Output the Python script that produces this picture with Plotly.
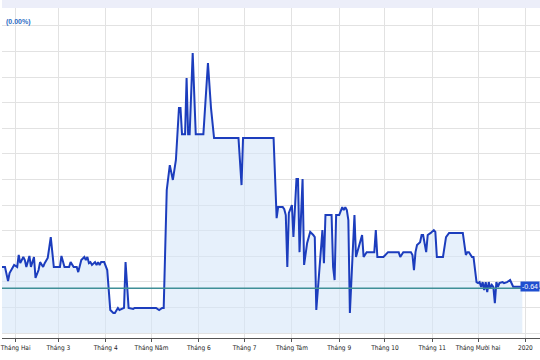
import plotly.graph_objects as go

# ---- data ----
dates_a = ["2019-01-23","2019-01-25","2019-01-27","2019-01-28","2019-01-31","2019-02-02","2019-02-03","2019-02-04",
           "2019-02-06","2019-02-07","2019-02-08","2019-02-10","2019-02-11","2019-02-13","2019-02-14","2019-02-16",
           "2019-02-17","2019-02-19","2019-02-20","2019-02-22","2019-02-24","2019-02-26","2019-03-02","2019-03-03",
           "2019-03-05","2019-03-08","2019-03-09","2019-03-11","2019-03-13","2019-03-14","2019-03-16","2019-03-18",
           "2019-03-19","2019-03-20","2019-03-21","2019-03-22","2019-03-23","2019-03-25","2019-03-26","2019-03-27",
           "2019-03-28","2019-03-29","2019-03-31","2019-04-02","2019-04-04","2019-04-06","2019-04-07","2019-04-09",
           "2019-04-10","2019-04-13","2019-04-14","2019-04-16","2019-04-19","2019-04-20","2019-04-24","2019-05-04",
           "2019-05-06","2019-05-08","2019-05-09"]
values_a = [2.58,2.58,2.03,2.34,2.66,2.58,3.05,2.73,
            2.97,2.85,2.58,3.01,2.58,2.97,2.15,2.46,
            2.77,2.58,2.73,2.93,3.75,2.58,2.58,3.01,
            2.58,2.58,2.77,2.58,2.58,2.38,2.85,2.97,
            2.85,2.97,2.73,2.77,2.66,2.77,2.66,2.77,
            2.66,2.77,2.77,2.46,0.90,0.78,0.78,0.98,
            0.90,0.98,2.77,0.98,0.94,0.98,0.98,0.98,
            0.90,0.98,0.98]

dates_b = ["2019-05-11","2019-05-13","2019-05-15","2019-05-17","2019-05-19","2019-05-20","2019-05-21","2019-05-23",
           "2019-05-24","2019-05-25","2019-05-26","2019-05-28","2019-05-30","2019-06-04","2019-06-07","2019-06-09",
           "2019-06-11","2019-06-27","2019-06-29","2019-06-30","2019-07-20"]
values_b = [5.59,6.56,5.98,6.76,8.79,8.79,7.77,7.77,
            9.96,7.77,7.77,10.94,7.77,7.77,10.55,8.79,
            7.62,7.62,5.78,7.62,7.62]

dates_c = ["2019-07-22","2019-07-23","2019-07-26","2019-07-27","2019-07-28","2019-07-29","2019-07-30","2019-08-01",
           "2019-08-02","2019-08-04","2019-08-05","2019-08-06","2019-08-08","2019-08-09","2019-08-11","2019-08-13",
           "2019-08-15","2019-08-16","2019-08-17","2019-08-19","2019-08-21","2019-08-22","2019-08-23","2019-08-27",
           "2019-08-28","2019-08-29","2019-08-30","2019-09-01","2019-09-03","2019-09-04","2019-09-05","2019-09-06",
           "2019-09-07","2019-09-08","2019-09-11","2019-09-12","2019-09-14","2019-09-16","2019-09-17","2019-09-19",
           "2019-09-24","2019-09-25","2019-09-26"]
values_c = [4.49,4.92,4.92,4.84,4.61,2.58,4.69,5.00,
            3.75,6.02,6.02,3.16,6.02,2.66,3.52,3.95,
            3.83,3.75,0.90,2.58,4.02,2.73,4.61,4.61,
            2.58,2.07,4.61,4.61,4.92,4.80,4.92,4.80,
            4.41,0.78,4.61,2.97,3.36,3.83,2.97,3.16,
            3.16,4.02,2.97]

dates_d = ["2019-09-30","2019-10-03","2019-10-10","2019-10-11","2019-10-13","2019-10-18","2019-10-19","2019-10-20",
           "2019-10-21","2019-10-22","2019-10-24","2019-10-25","2019-10-26","2019-10-28","2019-10-29","2019-10-31",
           "2019-11-02","2019-11-03","2019-11-04","2019-11-08","2019-11-10","2019-11-12","2019-11-21","2019-11-23",
           "2019-11-24","2019-11-25","2019-11-27","2019-11-28","2019-11-29","2019-11-30"]
values_d = [2.97,3.16,3.16,2.97,3.16,3.16,3.05,2.46,
            3.16,3.44,3.55,3.83,3.83,3.16,3.83,3.91,
            4.02,3.95,2.97,2.97,3.75,3.91,3.91,3.05,
            3.16,3.16,2.97,2.97,2.46,1.99]

dates_e = ["2019-12-01","2019-12-02","2019-12-03","2019-12-04","2019-12-05","2019-12-06","2019-12-07","2019-12-08",
           "2019-12-09","2019-12-10","2019-12-11","2019-12-12","2019-12-13","2019-12-14","2019-12-15","2019-12-17",
           "2019-12-18","2019-12-20","2019-12-22","2019-12-24","2019-12-30"]
values_e = [1.95,1.99,1.80,1.99,1.68,1.99,1.60,1.99,
            1.76,1.88,1.80,1.17,1.99,1.80,1.95,1.99,
            1.95,1.99,2.07,1.81,1.81]

reference_level = 1.75
last_label = "-0.64"
top_label = "(0.00%)"

tick_dates = ["2019-02-01","2019-03-01","2019-04-01","2019-05-01","2019-06-01","2019-07-01",
              "2019-08-01","2019-09-01","2019-10-01","2019-11-01","2019-12-01","2020-01-01"]
tick_labels = ["Tháng Hai","Tháng 3","Tháng 4","Tháng Năm","Tháng 6","Tháng 7",
               "Tháng Tám","Tháng 9","Tháng 10","Tháng 11","Tháng Mười hai","2020"]

dates = dates_a + dates_b + dates_c + dates_d + dates_e
values = values_a + values_b + values_c + values_d + values_e

fig = go.Figure()
fig.add_trace(go.Scatter(
    x=dates, y=values, mode="lines",
    line=dict(color="#1c3dbd", width=2),
    fill="tozeroy", fillcolor="rgba(214,230,248,0.6)",
    hoverinfo="skip", showlegend=False,
))

fig.add_shape(type="line", xref="paper", x0=0, x1=1, yref="y",
              y0=reference_level, y1=reference_level,
              line=dict(color="#3f8f97", width=1.5), layer="above")

# top header band
fig.add_shape(type="rect", xref="paper", yref="paper", x0=0, x1=1, y0=1, y1=1.03,
              fillcolor="#eceef9", line=dict(width=0))

fig.add_annotation(x=1, y=values[-1], xref="paper", yref="y", xanchor="right",
                   text=last_label, showarrow=False, bgcolor="#1f4fd0",
                   font=dict(color="white", size=7, family="Liberation Sans Narrow, Arial"),
                   borderpad=1)
fig.add_annotation(x=0.003, y=12.15, xref="paper", yref="y", xanchor="left", yanchor="middle",
                   text="<b>" + top_label + "</b>", showarrow=False,
                   font=dict(color="#2a6cc4", size=7, family="Liberation Sans Narrow, Arial"))

fig.update_xaxes(
    type="date",
    range=["2019-01-23 01:00", "2020-01-10 14:00"],
    tickvals=tick_dates, ticktext=tick_labels,
    ticklabeloverflow="allow",
    showgrid=True, gridcolor="#e2e2e2", gridwidth=1,
    showline=True, linecolor="#555555", linewidth=1,
    ticks="outside", ticklen=3, tickcolor="#555555",
    tickfont=dict(size=6.5, color="#222222", family="Liberation Sans Narrow, DejaVu Sans Condensed, Arial"),
    fixedrange=True,
)
fig.update_yaxes(
    range=[-0.195, 12.7],
    tick0=0, dtick=1,
    showgrid=True, gridcolor="#e2e2e2", gridwidth=1,
    zeroline=False, showticklabels=False, showline=False,
)

fig.update_layout(
    width=540, height=360,
    margin=dict(l=0, r=0, t=8, b=22),
    plot_bgcolor="white", paper_bgcolor="white",
    showlegend=False,
)

fig.write_html("out.html")
